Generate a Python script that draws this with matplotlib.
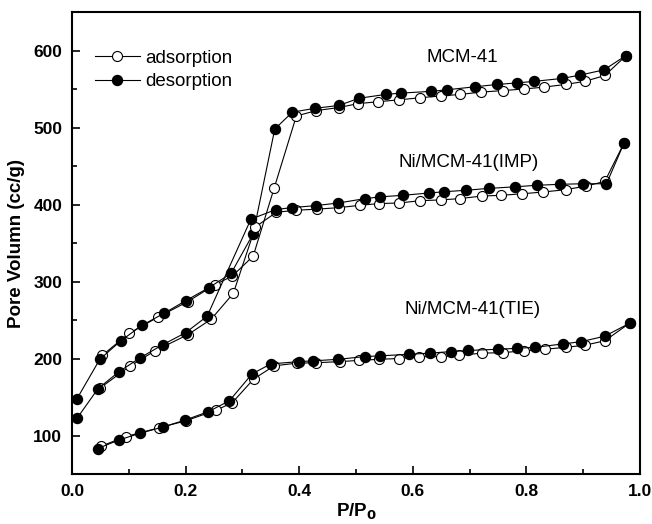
import matplotlib
matplotlib.use("Agg")
import matplotlib.pyplot as plt
from matplotlib.ticker import MultipleLocator, FormatStrFormatter

plt.rcParams["font.family"] = ["Liberation Sans", "DejaVu Sans"]

# -------- MCM-41 --------
mcm_ads_p = [0.053, 0.101, 0.151, 0.204, 0.252, 0.282, 0.319, 0.356, 0.395, 0.430, 0.470,
             0.503, 0.538, 0.576, 0.613, 0.649, 0.683, 0.720, 0.758, 0.795, 0.831, 0.869,
             0.903, 0.938, 0.975]
mcm_ads_v = [204, 233, 253.5, 274, 296, 307, 333, 421.5, 515, 522, 526,
             531, 533.5, 536, 538.7, 541, 543, 546, 548, 550, 552.5, 556,
             560, 567.6, 593]
mcm_des_p = [0.975, 0.937, 0.894, 0.862, 0.814, 0.784, 0.749, 0.710, 0.660, 0.632, 0.579,
             0.552, 0.505, 0.470, 0.428, 0.388, 0.357, 0.319, 0.280, 0.241, 0.200, 0.162,
             0.123, 0.086, 0.049, 0.009]
mcm_des_v = [593.5, 575, 568, 563.7, 560, 558, 556, 553, 549, 547, 544.7,
             543, 538, 528.7, 525, 520, 498, 362, 310.5, 292, 275, 258.7,
             243, 223, 199, 148]

# -------- Ni/MCM-41(IMP) --------
imp_ads_p = [0.050, 0.102, 0.146, 0.204, 0.245, 0.284, 0.323, 0.360, 0.395, 0.432, 0.470,
             0.507, 0.541, 0.576, 0.613, 0.649, 0.683, 0.721, 0.756, 0.793, 0.830, 0.869,
             0.905, 0.938, 0.972]
imp_ads_v = [162, 190, 210, 231, 251, 284.6, 371, 390, 392.6, 394, 396,
             399, 401.3, 402, 405, 406, 407.7, 411, 412, 414, 416.3, 419.3,
             424, 430, 480]
imp_des_p = [0.972, 0.941, 0.899, 0.860, 0.818, 0.780, 0.734, 0.693, 0.655, 0.629, 0.583,
             0.543, 0.515, 0.469, 0.429, 0.387, 0.359, 0.315, 0.238, 0.200, 0.160, 0.120,
             0.083, 0.046, 0.009]
imp_des_v = [480, 427, 427, 426.3, 425, 423, 421, 418.5, 416.6, 415, 412,
             410, 407.6, 402, 398.6, 396, 393.5, 381, 255, 233.5, 218, 201,
             183, 161, 122.5]

# -------- Ni/MCM-41(TIE) --------
tie_ads_p = [0.0505, 0.095, 0.153, 0.200, 0.254, 0.282, 0.320, 0.356, 0.396, 0.430, 0.472,
             0.506, 0.541, 0.576, 0.611, 0.649, 0.682, 0.721, 0.758, 0.795, 0.832, 0.870,
             0.903, 0.938, 0.982]
tie_ads_v = [86, 98.7, 110, 119, 133, 142.5, 173.5, 190.5, 194, 194.5, 196,
             197.6, 199, 200, 202.4, 202.4, 204, 207, 207.6, 210, 212, 214.6,
             217.3, 223, 246]
tie_des_p = [0.982, 0.938, 0.897, 0.865, 0.816, 0.784, 0.750, 0.698, 0.667, 0.630, 0.594,
             0.543, 0.516, 0.469, 0.425, 0.400, 0.350, 0.317, 0.277, 0.240, 0.199, 0.160,
             0.120, 0.082, 0.045]
tie_des_v = [246, 229, 222, 219, 214.6, 213.3, 212, 210.5, 209, 207, 205.5,
             203.5, 202.6, 199, 197, 196, 193, 180, 145, 131, 120, 111,
             103, 94, 83]

labels = ["MCM-41", "Ni/MCM-41(IMP)", "Ni/MCM-41(TIE)"]
label_pos = [(0.688, 591), (0.699, 455), (0.706, 264)]

fig = plt.figure(figsize=(6.52, 5.24), dpi=100)
ax = fig.add_axes([0.1104, 0.0954, 0.8712, 0.8816])

ms = 7.2
lw = 0.8
open_style = dict(color="black", linewidth=lw, marker="o", markersize=ms,
                  markerfacecolor="white", markeredgecolor="black", markeredgewidth=0.8)
fill_style = dict(color="black", linewidth=lw, marker="o", markersize=ms,
                  markerfacecolor="black", markeredgecolor="black")

series = [(mcm_ads_p, mcm_ads_v, mcm_des_p, mcm_des_v),
          (imp_ads_p, imp_ads_v, imp_des_p, imp_des_v),
          (tie_ads_p, tie_ads_v, tie_des_p, tie_des_v)]
for i, (ap, av, dp, dv) in enumerate(series):
    ax.plot(ap, av, label="adsorption" if i == 0 else None, **open_style)
    ax.plot(dp, dv, label="desorption" if i == 0 else None, **fill_style)

for text, (x, y) in zip(labels, label_pos):
    ax.text(x, y, text, fontsize=13.5, ha="center", va="center")

ax.set_xlim(0.0, 1.0)
ax.set_ylim(50, 650)
ax.xaxis.set_major_locator(MultipleLocator(0.2))
ax.xaxis.set_minor_locator(MultipleLocator(0.1))
ax.xaxis.set_major_formatter(FormatStrFormatter("%.1f"))
ax.yaxis.set_major_locator(MultipleLocator(100))
ax.yaxis.set_minor_locator(MultipleLocator(50))
ax.tick_params(which="both", direction="in", width=1.2, labelsize=12.5, pad=7)
ax.tick_params(which="major", length=6)
ax.tick_params(which="minor", length=3.5)
for lab in ax.get_xticklabels() + ax.get_yticklabels():
    lab.set_fontweight("bold")
ax.set_yticks([100, 200, 300, 400, 500, 600])
for sp in ax.spines.values():
    sp.set_linewidth(1.5)

ax.set_xlabel("P/P$_\\mathbf{0}$", fontsize=13.5, fontweight="bold", labelpad=2)
ax.set_ylabel("Pore Volumn (cc/g)", fontsize=13.5, fontweight="bold", labelpad=6)

leg = ax.legend(loc="upper left", bbox_to_anchor=(0.02, 0.943), frameon=False,
                fontsize=13.5, handlelength=2.4, handletextpad=0.3, labelspacing=0.35,
                borderaxespad=0.2)

fig.savefig("out.png", dpi=100)
